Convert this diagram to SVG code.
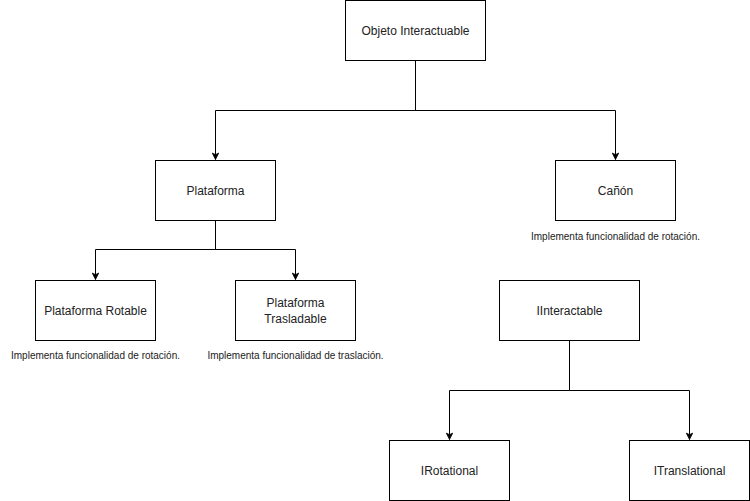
<svg xmlns="http://www.w3.org/2000/svg" width="750" height="501" viewBox="0 0 750 501">
<style>
.box{fill:#fff;stroke:#000;stroke-width:1}
.lbl{font-family:"Liberation Sans",Arial,sans-serif;font-size:12px;fill:#222;text-anchor:middle;dominant-baseline:central}
.note{font-family:"Liberation Sans",Arial,sans-serif;font-size:10px;fill:#222;text-anchor:middle;dominant-baseline:central}
.edge{fill:none;stroke:#000;stroke-width:1}
</style>
<defs>
<marker id="arr" viewBox="0 0 10 10" refX="9" refY="5" markerWidth="8" markerHeight="8" markerUnits="userSpaceOnUse" orient="auto">
<path d="M1,1 L9,5 L1,9 L3,5 Z" fill="#000" stroke="#000"/>
</marker>
</defs>
<rect width="750" height="501" fill="#fff"/>
<g id="connectors">
<path class="edge" d="M415.5,60.5 V110.5 H215.5 V159.5" marker-end="url(#arr)"/>
<path class="edge" d="M415.5,60.5 V110.5 H615.5 V159.5" marker-end="url(#arr)"/>
<path class="edge" d="M215.5,220.5 V249.5 H95.5 V279.5" marker-end="url(#arr)"/>
<path class="edge" d="M215.5,220.5 V249.5 H295.5 V279.5" marker-end="url(#arr)"/>
<path class="edge" d="M569.5,340.5 V390.5 H449.5 V439.5" marker-end="url(#arr)"/>
<path class="edge" d="M569.5,340.5 V390.5 H689.5 V439.5" marker-end="url(#arr)"/>
</g>
<g id="objeto">
<rect class="box" x="345.5" y="0.5" width="140" height="60"/>
<text class="lbl" x="415.5" y="30.5">Objeto Interactuable</text>
</g>
<g id="plataforma">
<rect class="box" x="155.5" y="160.5" width="120" height="60"/>
<text class="lbl" x="215.5" y="190.5">Plataforma</text>
</g>
<g id="canon">
<rect class="box" x="555.5" y="160.5" width="120" height="60"/>
<text class="lbl" x="615.5" y="190.5">Cañón</text>
<text class="note" x="615.5" y="236.5">Implementa funcionalidad de rotación.</text>
</g>
<g id="rotable">
<rect class="box" x="35.5" y="280.5" width="120" height="60"/>
<text class="lbl" x="95.5" y="310.5">Plataforma Rotable</text>
<text class="note" x="95.5" y="355.5">Implementa funcionalidad de rotación.</text>
</g>
<g id="trasladable">
<rect class="box" x="235.5" y="280.5" width="120" height="60"/>
<text class="lbl" x="295.5" y="302.5">Plataforma</text>
<text class="lbl" x="295.5" y="318.5">Trasladable</text>
<text class="note" x="295.5" y="355.5">Implementa funcionalidad de traslación.</text>
</g>
<g id="iinteractable">
<rect class="box" x="499.5" y="280.5" width="140" height="60"/>
<text class="lbl" x="569.5" y="310.5">IInteractable</text>
</g>
<g id="irotational">
<rect class="box" x="389.5" y="440.5" width="120" height="60"/>
<text class="lbl" x="449.5" y="470.5">IRotational</text>
</g>
<g id="itranslational">
<rect class="box" x="629.5" y="440.5" width="120" height="60"/>
<text class="lbl" x="689.5" y="470.5">ITranslational</text>
</g>
</svg>
